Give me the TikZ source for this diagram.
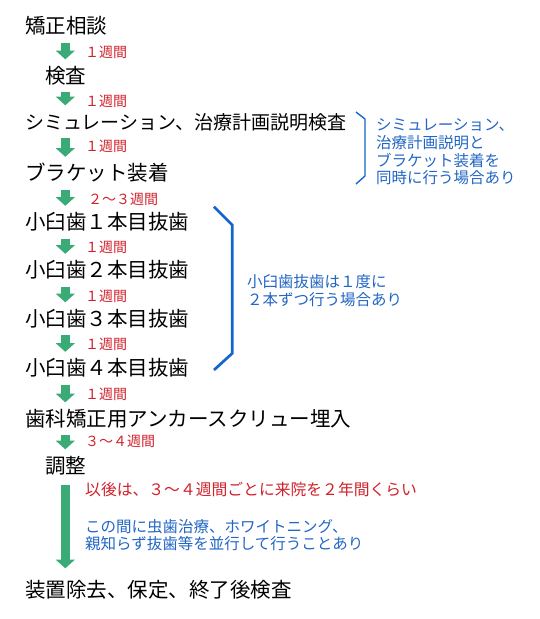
\documentclass[tikz,border=0pt]{standalone}
\usepackage{fontspec}
\setmainfont{Noto Sans CJK JP}
\usetikzlibrary{arrows.meta}
\definecolor{flowgreen}{HTML}{3AAA76}
\definecolor{weekred}{HTML}{D0202A}
\definecolor{noteblue}{HTML}{2266C4}
\definecolor{braceblue}{HTML}{1466CC}
\begin{document}
\begin{tikzpicture}[x=1pt, y=-1pt,
  stage/.style={anchor=west, inner sep=0pt, font=\fontsize{20.5}{24}\selectfont, text height=17pt, text depth=1.4pt},
  week/.style={anchor=west, inner sep=0pt, text=weekred, font=\fontsize{14}{16}\selectfont, text height=11.6pt, text depth=1pt},
  note/.style={anchor=base west, inner sep=0pt, align=left, text=noteblue},
  flow/.style={draw=flowgreen, line width=9.3pt, shorten <=7.3pt, shorten >=6.8pt, -{Triangle[length=8.6pt, width=18.6pt]}},
  bracket/.style={draw=braceblue, line width=1.4pt}]
 \useasboundingbox (0,0) rectangle (540,619);
 \coordinate (ax) at (65.3,0);
 \node[stage] (s1) at (25,26) {矯正相談};
 \node[stage] (s2) at (45,75.5) {検査};
 \node[stage, font=\fontsize{19}{23}\selectfont] (s3) at (25,121.5) {シミュレーション、治療計画説明検査};
 \node[stage] (s4) at (25,173) {ブラケット装着};
 \foreach \n/\y [count=\i from 5] in {１/222,２/270,３/318.5,４/368}
  \node[stage] (s\i) at (25,\y) {小臼歯\n 本目抜歯};
 \node[stage] (s9) at (25,418.5) {歯科矯正用アンカースクリュー埋入};
 \node[stage] (s10) at (45,465.5) {調整};
 \node[stage] (s11) at (25,589.5) {装置除去、保定、終了後検査};
 \foreach \i/\y in {1/51.7,2/101,3/146,5/247.5,6/296,7/344,8/394}
  \node[week] (w\i) at (85,\y) {１週間};
 \node[week] (w4) at (88,199) {２～３週間};
 \node[week] (w9) at (85,441.5) {３～４週間};
 \foreach \i [evaluate=\i as \j using int(\i+1)] in {1,...,9}
  \draw[flow] (s\i.south -| ax) -- (s\j.north -| ax);
 \draw[flow, shorten <=10.3pt, shorten >=11.8pt] (s10.south -| ax) -- (s11.north -| ax);
 \node[week, font=\fontsize{15.8}{18}\selectfont, text height=13pt] (later) at (85,489.3) {以後は、３～４週間ごとに来院を２年間くらい};
 \node[note, font=\fontsize{15.5}{16.7}\selectfont] (during) at (85,549.6) {この間に虫歯治療、ホワイトニング、\\親知らず抜歯等を並行して行うことあり};
 % braces
 \draw[bracket] (356,112) -- (365,119) -- (365,176) -- (356,184);
 \node[note, font=\fontsize{15.5}{17.7}\selectfont] (same) at (376,183.9) {シミュレーション、\\治療計画説明と\\ブラケット装着を\\同時に行う場合あり};
 \draw[bracket, line width=2.7pt] (214,206.7) -- (232.3,225) -- (232.3,353.3) -- (214,370);
 \node[note, font=\fontsize{15.5}{18}\selectfont] (pair) at (247,305.9) {小臼歯抜歯は１度に\\２本ずつ行う場合あり};
\end{tikzpicture}
\end{document}
